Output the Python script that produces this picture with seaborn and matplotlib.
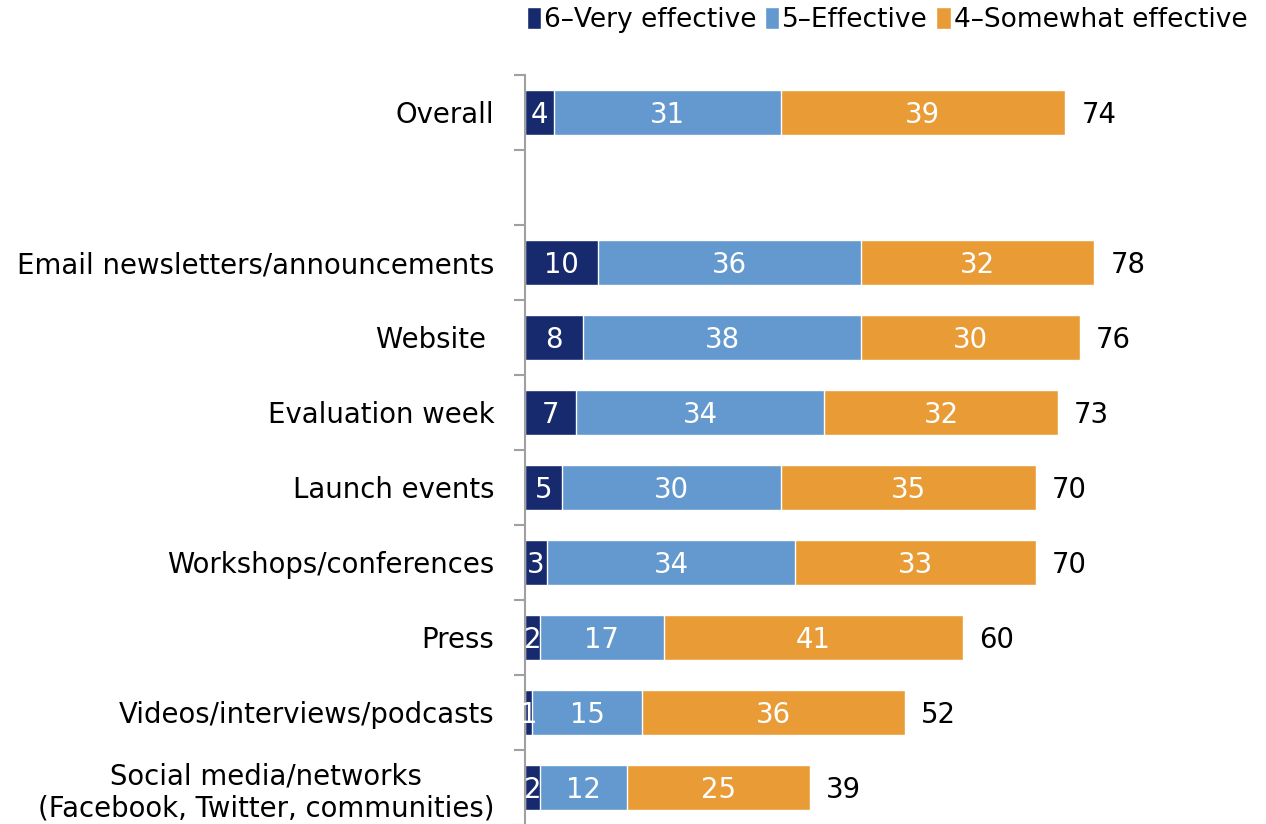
import numpy as np
import pandas as pd
import seaborn as sns
import matplotlib.pyplot as plt
from matplotlib.patches import Patch

# Data
categories = ["Overall", "Email newsletters/announcements", "Website ", "Evaluation week",
              "Launch events", "Workshops/conferences", "Press",
              "Videos/interviews/podcasts",
              "Social media/networks\n(Facebook, Twitter, communities)"]
very_effective = [4, 10, 8, 7, 5, 3, 2, 1, 2]
effective = [31, 36, 38, 34, 30, 34, 17, 15, 12]
somewhat_effective = [39, 32, 30, 32, 35, 33, 41, 36, 25]
totals = [74, 78, 76, 73, 70, 70, 60, 52, 39]
series_names = ["6\u2013Very effective", "5\u2013Effective", "4\u2013Somewhat effective"]

# blank slot between Overall and the channels
order = [categories[0], " "] + categories[1:]

colors = ["#172A6E", "#6399CE", "#E99B36"]
FS = 19.8

df = pd.DataFrame({
    "category": categories,
    "v6": very_effective,
    "v5": effective,
    "v4": somewhat_effective,
})
df["c6"] = df["v6"]
df["c65"] = df["v6"] + df["v5"]
df["c654"] = df["v6"] + df["v5"] + df["v4"]

sns.set_style("white")
plt.rcParams["font.family"] = ["DejaVu Sans"]
plt.rcParams["text.color"] = "black"

fig = plt.figure(figsize=(12.66, 8.24), dpi=100)
ax = fig.add_axes([0.4147, -0.0012, 0.5766, 0.9102])

# stacked bars drawn back to front with cumulative widths
for col, color in zip(["c654", "c65", "c6"], colors[::-1]):
    sns.barplot(data=df, x=col, y="category", order=order, color=color,
                width=0.6, saturation=1, ax=ax, orient="h")

ax.set_xlim(0, 100)
ax.set_ylim(len(order) - 0.5, -0.5)
ax.set_xlabel("")
ax.set_ylabel("")
ax.set_xticks([])

# labels
pos = {c: order.index(c) for c in categories}
for i, c in enumerate(categories):
    y = pos[c] + 0.03
    lefts = [0, very_effective[i], very_effective[i] + effective[i]]
    vals = [very_effective[i], effective[i], somewhat_effective[i]]
    for left, v in zip(lefts, vals):
        ax.text(left + v / 2, y, str(v), ha="center", va="center",
                color="white", fontsize=FS)
    ax.text(lefts[2] + vals[2] + 2.2, y, str(totals[i]), ha="left",
            va="center", color="black", fontsize=FS)

ax.tick_params(axis="y", which="major", length=0, pad=22, labelsize=FS,
               labelcolor="black")
for lab in ax.get_yticklabels():
    lab.set_multialignment("center")
ax.set_yticks(np.arange(-0.5, len(order), 1), minor=True)
ax.tick_params(axis="y", which="minor", left=True, length=8, width=1.5,
               color="#A0A0A0", direction="out")

for side in ["top", "right", "bottom"]:
    ax.spines[side].set_visible(False)
ax.spines["left"].set_color("#A0A0A0")
ax.spines["left"].set_linewidth(1.5)

handles = [Patch(facecolor=c, label=n) for c, n in zip(colors, series_names)]
fig.legend(handles=handles, loc="upper right", bbox_to_anchor=(1.004, 1.02), ncol=3,
           frameon=False, fontsize=19, handlelength=0.55, handleheight=0.9,
           handletextpad=0.12, columnspacing=0.3)

fig.savefig("out.png", dpi=100)
